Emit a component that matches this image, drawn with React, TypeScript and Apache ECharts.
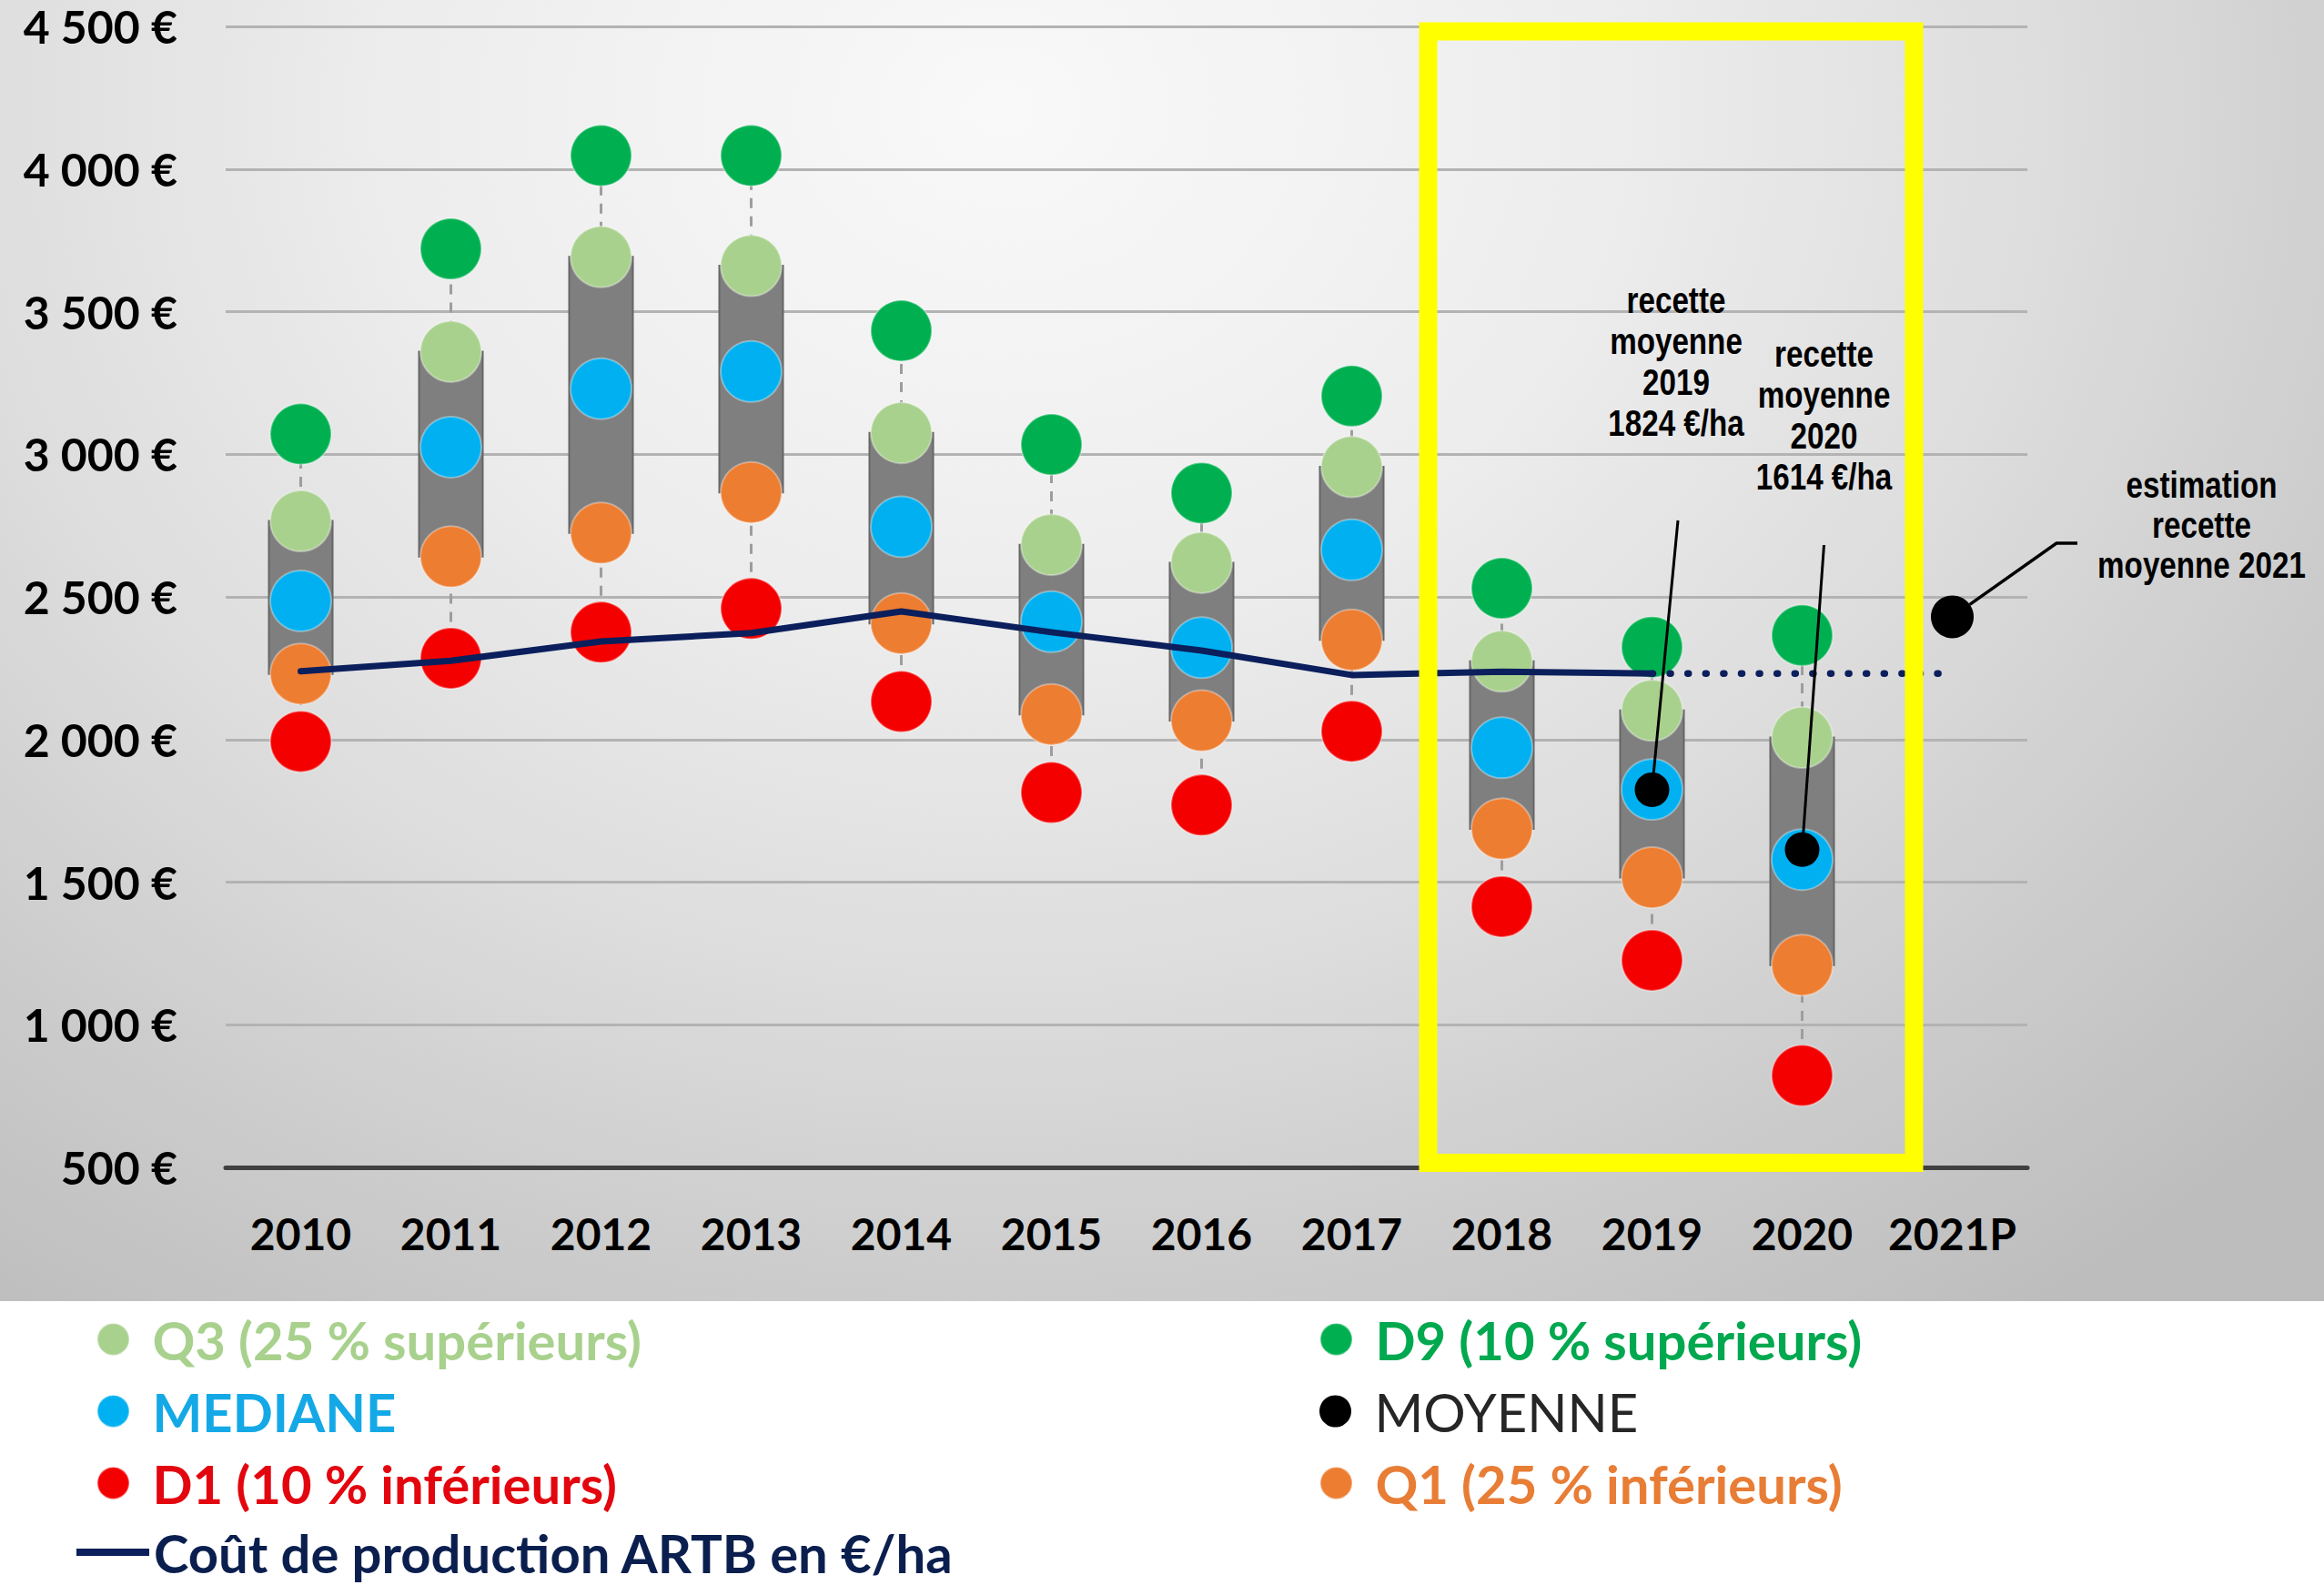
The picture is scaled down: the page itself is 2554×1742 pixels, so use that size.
import React, { useEffect, useRef } from 'react';
import * as echarts from 'echarts';

// ---------- data ----------
const years = ['2010', '2011', '2012', '2013', '2014', '2015', '2016', '2017', '2018', '2019', '2020', '2021P'];
const d9 = [3071, 3720, 4047, 4047, 3433, 3034, 2864, 3204, 2530, 2324, 2365, null];
const q3 = [2766, 3360, 3692, 3661, 3075, 2683, 2620, 2956, 2274, 2102, 2007, null];
const mediane = [2486, 3025, 3230, 3290, 2746, 2413, 2322, 2665, 1971, 1825, 1579, null];
const q1 = [2230, 2641, 2724, 2866, 2407, 2088, 2066, 2349, 1687, 1516, 1209, null];
const d1 = [1993, 2285, 2376, 2459, 2133, 1814, 1770, 2029, 1414, 1226, 822, null];
const moyenne = [null, null, null, null, null, null, null, null, null, 1824, 1614, 2430];
const cout = [2239, 2276, 2344, 2373, 2449, 2376, 2312, 2226, 2238, 2231, null, null];
const coutProjection = [null, null, null, null, null, null, null, null, null, 2231, 2231, 2231];
const yMin = 500;
const yMax = 4500;
const yStep = 500;

const annotation2019 = ['recette', 'moyenne', '2019', '1824 €/ha'];
const annotation2020 = ['recette', 'moyenne', '2020', '1614 €/ha'];
const annotation2021 = ['estimation', 'recette', 'moyenne 2021'];

const NAME_Q3 = 'Q3 (25 % supérieurs)';
const NAME_D9 = 'D9 (10 % supérieurs)';
const NAME_MED = 'MEDIANE';
const NAME_MOY = 'MOYENNE';
const NAME_D1 = 'D1 (10 % inférieurs)';
const NAME_Q1 = 'Q1 (25 % inférieurs)';
const NAME_COUT = 'Coût de production ARTB en €/ha';

// ---------- helpers ----------
const dash = (arr: (number | null)[]) => arr.map((v) => (v === null ? '-' : v));
const fmtEuro = (v: number) => String(v).replace(/\B(?=(\d{3})+(?!\d))/g, ' ') + ' €';

const COLORS = {
  d9: '#00b050',
  q3: '#a9d18e',
  med: '#00b0f0',
  q1: '#ed7d31',
  d1: '#f50000',
  moy: '#000000',
  cout: '#0b1f5c',
};

const boxRows = years
  .map((_, i) => (d1[i] === null ? null : [i, d1[i], q1[i], q3[i], d9[i]]))
  .filter((r) => r !== null);

const LEG_FONT = 'Lato';

function legendItem(name: string, left: number, centerY: number, color: string, bold = true) {
  return {
    show: true,
    left,
    top: centerY - 29,
    padding: 0,
    itemGap: 0,
    selectedMode: false,
    data: [{ name, icon: 'circle' }],
    itemWidth: 76,
    itemHeight: 35,
    textStyle: {
      color,
      fontSize: 58,
      fontWeight: bold ? 'bold' : 'normal',
      fontFamily: LEG_FONT,
    },
  };
}

function dotSeries(name: string, values: (number | null)[], color: string, z = 2) {
  return {
    name,
    type: 'scatter',
    data: dash(values),
    symbol: 'circle',
    symbolSize: 67,
    z,
    itemStyle: { color, opacity: 1, borderColor: 'rgba(255,255,255,0.35)', borderWidth: 2 },
    emphasis: { disabled: true },
  };
}

export default function App() {
  const ref = useRef<HTMLDivElement>(null);

  useEffect(() => {
    if (!ref.current) return;
    const chart = echarts.init(ref.current, null, { renderer: 'svg' });

    const option: any = {
      animation: false,
      backgroundColor: 'transparent',
      grid: { left: 248, right: 326, top: 29, bottom: 459, containLabel: false },
      xAxis: {
        type: 'category',
        data: years,
        boundaryGap: true,
        axisTick: { show: false },
        axisLine: { show: true, lineStyle: { color: '#404040', width: 5 } },
        axisLabel: {
          interval: 0,
          color: '#000',
          fontFamily: 'Lato',
          fontWeight: 'bold',
          fontSize: 48,
          margin: 48,
        },
        splitLine: { show: false },
      },
      yAxis: {
        type: 'value',
        min: yMin,
        max: yMax,
        interval: yStep,
        axisLine: { show: false },
        axisTick: { show: false },
        axisLabel: {
          formatter: fmtEuro,
          color: '#000',
          fontFamily: 'Lato',
          fontWeight: 'bold',
          fontSize: 50,
          lineHeight: 42,
          margin: 53,
        },
        splitLine: { show: true, lineStyle: { color: '#b3b3b3', width: 3 } },
      },
      legend: [
        legendItem(NAME_Q3, 106, 1472, '#a9d18e'),
        legendItem(NAME_MED, 106, 1551, '#14a9e6'),
        legendItem(NAME_D1, 106, 1630, '#e3060f'),
        {
          show: true,
          left: 84,
          top: 1706 - 29,
          padding: 0,
          itemGap: 0,
          selectedMode: false,
          data: [{ name: NAME_COUT, icon: 'rect' }],
          itemWidth: 80,
          itemHeight: 8,
          textStyle: { color: '#0b1f4f', fontSize: 58, fontWeight: 'bold', fontFamily: LEG_FONT },
        },
        legendItem(NAME_D9, 1450, 1472, '#00a84f'),
        legendItem(NAME_MOY, 1450, 1551, '#262626', false),
        legendItem(NAME_Q1, 1450, 1630, '#e87d36'),
      ],
      series: [
        {
          name: 'intervalle',
          type: 'custom',
          z: 1,
          encode: { x: 0, y: [1, 2, 3, 4] },
          data: boxRows,
          renderItem: (params: any, api: any) => {
            const x = api.value(0);
            const pD1 = api.coord([x, api.value(1)]);
            const pQ1 = api.coord([x, api.value(2)]);
            const pQ3 = api.coord([x, api.value(3)]);
            const pD9 = api.coord([x, api.value(4)]);
            const w = 70;
            return {
              type: 'group',
              children: [
                {
                  type: 'line',
                  shape: { x1: pD1[0], y1: pD1[1], x2: pD9[0], y2: pD9[1] },
                  style: { stroke: '#9d9d9d', lineWidth: 3, lineDash: [11, 9] },
                },
                {
                  type: 'rect',
                  shape: { x: pQ3[0] - w / 2, y: pQ3[1], width: w, height: pQ1[1] - pQ3[1] },
                  style: { fill: '#7f7f7f', stroke: '#666666', lineWidth: 2 },
                },
              ],
            };
          },
          silent: true,
        },
        dotSeries(NAME_D9, d9, COLORS.d9),
        dotSeries(NAME_Q3, q3, COLORS.q3),
        dotSeries(NAME_D1, d1, COLORS.d1),
        dotSeries(NAME_Q1, q1, COLORS.q1),
        dotSeries(NAME_MED, mediane, COLORS.med),
        {
          name: NAME_COUT,
          type: 'line',
          data: dash(cout),
          color: COLORS.cout,
          symbol: 'none',
          z: 3,
          lineStyle: { color: COLORS.cout, width: 7, cap: 'round', join: 'round' },
          emphasis: { disabled: true },
        },
        {
          name: 'Coût projeté',
          type: 'line',
          data: dash(coutProjection),
          color: COLORS.cout,
          symbol: 'none',
          z: 3,
          lineStyle: { color: COLORS.cout, width: 7.5, type: [1, 18.6], cap: 'round' },
          emphasis: { disabled: true },
        },
        {
          name: NAME_MOY,
          type: 'scatter',
          data: dash(moyenne),
          symbol: 'circle',
          symbolSize: (_v: any, p: any) => (p.dataIndex === years.length - 1 ? 47 : 38),
          z: 5,
          itemStyle: { color: COLORS.moy, opacity: 1 },
          emphasis: { disabled: true },
        },
      ],
    };

    chart.setOption(option);

    // annotation graphics, anchored on the mean points through the axes
    const px = (i: number, v: number) => chart.convertToPixel({ gridIndex: 0 }, [i, v]) as number[];
    const i19 = years.indexOf('2019');
    const i20 = years.indexOf('2020');
    const i21 = years.indexOf('2021P');
    const p19 = px(i19, moyenne[i19] as number);
    const p20 = px(i20, moyenne[i20] as number);
    const p21 = px(i21, moyenne[i21] as number);

    const elbow = [2260, 597];
    const dx = elbow[0] - p21[0];
    const dy = elbow[1] - p21[1];
    const len = Math.sqrt(dx * dx + dy * dy);
    const r21 = 23.5;
    const end21 = [p21[0] + (dx / len) * r21, p21[1] + (dy / len) * r21];

    const annoText = (lines: string[], cx: number, top: number, lh: number) => ({
      type: 'group',
      x: cx,
      y: top,
      scaleX: 0.83,
      z: 10,
      silent: true,
      children: [
        {
          type: 'text',
          x: 0,
          y: 0,
          z: 10,
          style: {
            text: lines.join('\n'),
            fontFamily: 'Liberation Sans, Arial, sans-serif',
            fontWeight: 'bold',
            fontSize: 40,
            lineHeight: lh,
            fill: '#000',
            align: 'center',
            verticalAlign: 'top',
          },
        },
      ],
    });

    chart.setOption({
      graphic: {
        elements: [
          {
            type: 'line',
            z: 4,
            silent: true,
            shape: { x1: 1844, y1: 572, x2: p19[0], y2: p19[1] },
            style: { stroke: '#000', lineWidth: 3 },
          },
          {
            type: 'line',
            z: 4,
            silent: true,
            shape: { x1: 2004.5, y1: 599, x2: p20[0], y2: p20[1] },
            style: { stroke: '#000', lineWidth: 3 },
          },
          {
            type: 'polyline',
            z: 4,
            silent: true,
            shape: { points: [[2283, 597], elbow, end21] },
            style: { stroke: '#000', lineWidth: 3.5, fill: null },
          },
          annoText(annotation2019, 1842, 308, 45),
          annoText(annotation2020, 2004.5, 366.5, 45),
          annoText(annotation2021, 2419.5, 511, 44),
          {
            type: 'rect',
            z: 20,
            silent: true,
            shape: { x: 1569.5, y: 34.5, width: 534, height: 1243.5 },
            style: { fill: 'transparent', stroke: '#ffff00', lineWidth: 20 },
          },
        ],
      },
    });

    return () => {
      chart.dispose();
    };
  }, []);

  return (
    <div
      ref={ref}
      style={{
        position: 'absolute',
        left: 0,
        top: 0,
        width: 2554,
        height: 1742,
        background:
          'radial-gradient(ellipse 1750px 1450px at 1100px 120px, #f9f9f9 0%, #ededed 38%, #dddddd 66%, #cdcdcd 88%, #bdbdbd 112%) 0 0 / 2554px 1430px no-repeat, #ffffff',
      }}
    />
  );
}
